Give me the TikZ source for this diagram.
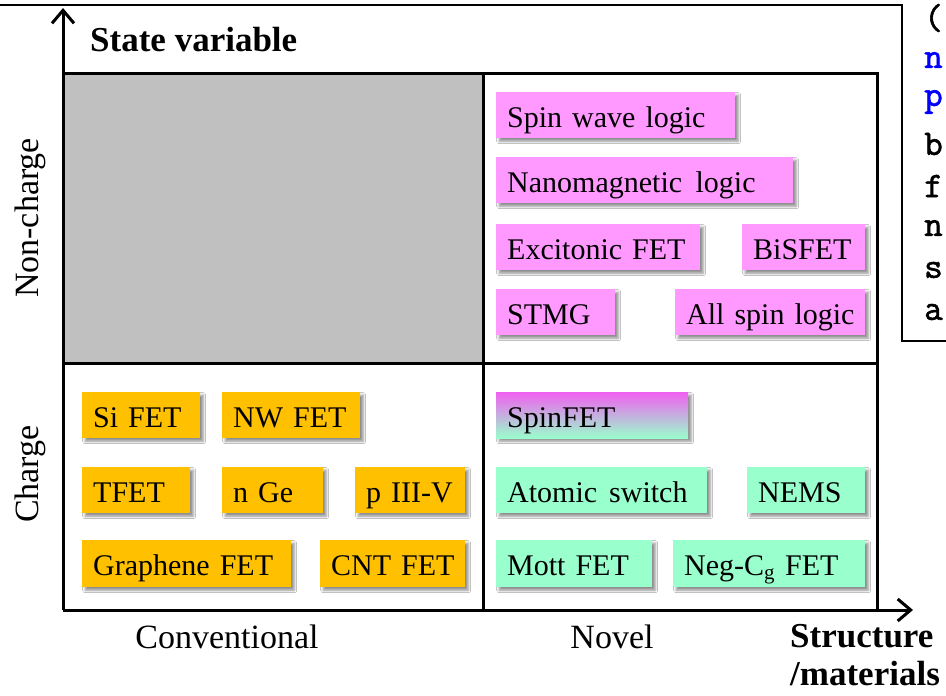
\documentclass[tikz,border=0pt]{standalone}
\usepackage{fontspec}
\setmainfont{Liberation Serif}
\newfontface\monob{Latin Modern Mono}[FakeBold=1.6]
\usetikzlibrary{arrows.meta,shadows.blur}
\definecolor{pinkbox}{HTML}{FF99FF}
\definecolor{orangebox}{HTML}{FFC000}
\definecolor{aquabox}{HTML}{99FFCC}
\definecolor{grayq}{HTML}{C0C0C0}
\definecolor{spinmag}{HTML}{F060F0}
\definecolor{spinblue}{HTML}{88B4FF}
\definecolor{letterblue}{HTML}{0000FF}
\tikzset{
  cellbox/.style={anchor=north west, inner xsep=11pt, inner ysep=0pt,
    minimum height=46pt, text height=27pt, text depth=3pt, align=left, font=\fontsize{30}{32}\selectfont,
    blur shadow={shadow xshift=3pt, shadow yshift=-3pt, shadow blur radius=2.5pt, shadow opacity=45}},
  pinkc/.style={cellbox, fill=pinkbox},
  orangec/.style={cellbox, fill=orangebox},
  aquac/.style={cellbox, fill=aquabox},
  frameline/.style={line width=3pt, line cap=rect},
  axisline/.style={line width=3pt, -{Straight Barb[length=13pt,width=22pt]}},
  axislabel/.style={font=\fontsize{34}{36}\selectfont, inner sep=0pt},
  boldlabel/.style={font=\fontsize{35}{38}\selectfont\bfseries, inner sep=0pt},
  letter/.style={anchor=west, inner sep=0pt, font=\fontsize{36}{40}\monob}
}
\begin{document}
\begin{tikzpicture}[x=1pt,y=-1pt]
\useasboundingbox (0,0) rectangle (946,696);
\fill[white] (0,0) rectangle (946,696);

% right-top panel
\coordinate (P0) at (0,5);
\coordinate (P1) at (902,5);
\coordinate (P2) at (902,341);
\coordinate (P3) at (946,341);
\draw[line width=1.8pt] (P0) -- (P1) -- (P2) -- (P3);
\node[letter] (l1) at (924,18) {(};
\node[letter, text=letterblue] (l2) at (924,60) {n};
\node[letter, text=letterblue] (l3) at (924,102) {p};
\node[letter] (l4) at (924,144) {b};
\node[letter] (l5) at (924,186) {f};
\node[letter] (l6) at (924,228) {n};
\node[letter] (l7) at (924,270) {s};
\node[letter] (l8) at (924,312) {a};

% frame coordinates
\coordinate (O) at (63,610);
\coordinate (TL) at (63,73);
\coordinate (TR) at (877,73);
\coordinate (BR) at (877,610);
\coordinate (MT) at (483,73);
\coordinate (MB) at (483,610);
\coordinate (ML) at (63,363);
\coordinate (MR) at (877,363);
\coordinate (C) at (483,363);
\coordinate (Ytip) at (63,8);
\coordinate (Xtip) at (913,610);

\fill[grayq] (TL) rectangle (C);

% non-charge / novel
\node[pinkc, text width=217pt] (swl) at (496,92) {\mbox{Spin wave logic}};
\node[pinkc, text width=275pt] (nml) at (496,157) {\mbox{Nanomagnetic\hspace{0.45em}logic}};
\node[pinkc, text width=182pt] (exf) at (496,224) {\mbox{Excitonic FET}};
\node[pinkc, text width=101pt] (bis) at (742,224) {\mbox{BiSFET}};
\node[pinkc, text width=97pt] (stmg) at (496,289) {\mbox{STMG}};
\node[pinkc, text width=168pt] (asl) at (675,289) {\mbox{All spin logic}};

% charge / novel
\node[cellbox, top color=spinmag, middle color=spinblue, bottom color=aquabox, text width=170pt] (spf) at (496,392) {\mbox{SpinFET}};
\node[aquac, text width=189pt] (ats) at (496,467) {\mbox{Atomic\hspace{0.4em}switch}};
\node[aquac, text width=96pt] (nems) at (747,467) {\mbox{NEMS}};
\node[aquac, text width=134pt, minimum height=47pt] (mott) at (496,540) {\mbox{Mott FET}};
\node[aquac, text width=170pt, minimum height=47pt] (neg) at (673,540) {\mbox{Neg-C\textsubscript{g} FET}};

% charge / conventional
\node[orangec, text width=96pt] (sif) at (82,392) {\mbox{Si FET}};
\node[orangec, text width=116pt] (nwf) at (222,392) {\mbox{NW FET}};
\node[orangec, text width=86pt] (tf) at (82,467) {\mbox{TFET}};
\node[orangec, text width=79pt] (nge) at (222,467) {\mbox{n Ge}};
\node[orangec, text width=88pt] (p3) at (355,467) {\mbox{p III-V}};
\node[orangec, text width=187pt, minimum height=47pt] (gf) at (82,540) {\mbox{Graphene FET}};
\node[orangec, text width=123pt, minimum height=47pt] (cnt) at (320,540) {\mbox{CNT FET}};

% frame
\draw[frameline] (TL) -- (TR) -- (BR);
\draw[frameline] (MT) -- (MB);
\draw[frameline] (ML) -- (MR);
\draw[axisline] (O) -- (Ytip);
\draw[axisline] (O) -- (Xtip);

% labels
\node[boldlabel, anchor=west] (sv) at (90,40) {State variable};
\node[boldlabel, anchor=north west, align=left] (sm) at (790,624) {Structure\\/materials};
\node[axislabel] (conv) at (227,637) {Conventional};
\node[axislabel] (nov) at (612,637) {Novel};
\node[axislabel, rotate=90] (nc) at (30,218) {Non-charge};
\node[axislabel, rotate=90] (ch) at (30,474) {Charge};
\end{tikzpicture}
\end{document}
